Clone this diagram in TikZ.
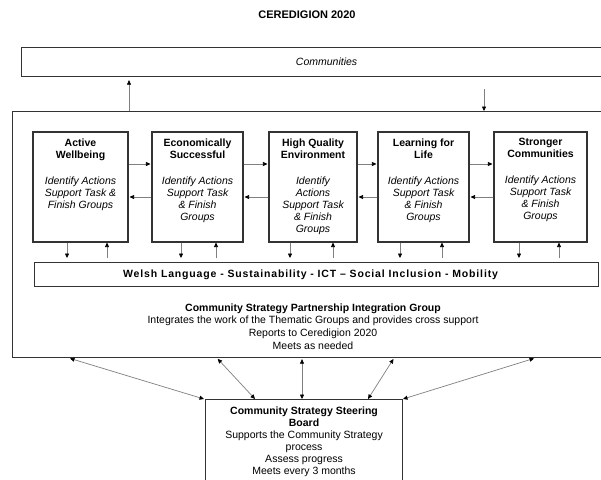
\documentclass[tikz,border=0pt]{standalone}
\usepackage{fontspec}
\setmainfont{Liberation Sans}
\usetikzlibrary{arrows.meta}
\begin{document}
\begin{tikzpicture}[x=1pt,y=-1pt,
	box/.style={draw=black!80,line width=1.1pt,inner sep=0pt},
	txt/.style={align=center,inner sep=0pt,font=\fontsize{10.5}{12}\selectfont},
	arr/.style={draw=black!50,line width=0.7pt,-{Triangle[length=4.5pt,width=4pt,black]}},
	darr/.style={draw=black!50,line width=0.7pt,{Triangle[length=4.5pt,width=4pt,black]}-{Triangle[length=4.5pt,width=4pt,black]}}]
	\clip (0,0) rectangle (601,479);
	\fill[white] (0,0) rectangle (601,479);
	\node[txt,font=\bfseries\fontsize{11}{13}\selectfont] (title) at (307,15) {CEREDIGION 2020};
	\node[box,minimum width=610,minimum height=29,anchor=north west,font=\itshape\fontsize{10.5}{12}\selectfont] (comm) at (21,47) {Communities};
	\node[box,minimum width=620,minimum height=246,anchor=north west] (outer) at (12,111) {};
	% themes
	\node[box,minimum width=95,minimum height=110] (b1) at (80.5,187) {};
	\node[box,minimum width=91,minimum height=110] (b2) at (197.5,187) {};
	\node[box,minimum width=88,minimum height=110] (b3) at (313,187) {};
	\node[box,minimum width=91,minimum height=110] (b4) at (423.5,187) {};
	\node[box,minimum width=93,minimum height=110] (b5) at (540.5,187) {};
	\node[txt,anchor=north] (t1) at ([yshift=-7]b1.north) {\textbf{Active}\\\textbf{Wellbeing}\\[14pt]\itshape Identify Actions\\\itshape Support Task \&\\\itshape Finish Groups};
	\node[txt,anchor=north] (t2) at ([yshift=-7]b2.north) {\textbf{Economically}\\\textbf{Successful}\\[14pt]\itshape Identify Actions\\\itshape Support Task\\\itshape \& Finish\\\itshape Groups};
	\node[txt,anchor=north] (t3) at ([yshift=-7]b3.north) {\textbf{High Quality}\\\textbf{Environment}\\[14pt]\itshape Identify\\\itshape Actions\\\itshape Support Task\\\itshape \& Finish\\\itshape Groups};
	\node[txt,anchor=north] (t4) at ([yshift=-7]b4.north) {\textbf{Learning for}\\\textbf{Life}\\[14pt]\itshape Identify Actions\\\itshape Support Task\\\itshape \& Finish\\\itshape Groups};
	\node[txt,anchor=north] (t5) at ([yshift=-7]b5.north) {\textbf{Stronger}\\\textbf{Communities}\\[14pt]\itshape Identify Actions\\\itshape Support Task\\\itshape \& Finish\\\itshape Groups};
	\node[box,minimum width=564,minimum height=24,anchor=north west] (band) at (34,262) {};
	\node[txt,font=\bfseries\fontsize{10.5}{12}\selectfont\addfontfeature{LetterSpace=8}] (bandtxt) at ([xshift=-6]band.center) {Welsh Language - Sustainability - ICT -- Social Inclusion - Mobility};
	\node[txt] (integ) at (313,326.5) {\textbf{Community Strategy Partnership Integration Group}\\Integrates the work of the Thematic Groups and provides cross support\\[1pt]Reports to Ceredigion 2020\\[1pt]Meets as needed};
	\node[box,minimum width=197,minimum height=120,anchor=north west] (board) at (205,399) {};
	\node[txt,anchor=north] (boardtxt) at ([yshift=-8]board.north) {\textbf{Community Strategy Steering}\\\textbf{Board}\\Supports the Community Strategy\\process\\Assess progress\\Meets every 3 months};
	% communities <-> outer
	\coordinate (up) at (129,0);
	\coordinate (down) at (484,0);
	\draw[arr,shorten >=3pt] (outer.north -| up) -- (comm.south -| up);
	\draw[arr,shorten <=12pt] (comm.south -| down) -- (outer.north -| down);
	% between themes
	\foreach \a/\b in {b1/b2,b2/b3,b3/b4,b4/b5} {
		\draw[arr,shorten >=1pt] ([yshift=23]\a.east) -- ([yshift=23]\b.west);
		\draw[arr,shorten >=1pt] ([yshift=-10]\b.west) -- ([yshift=-10]\a.east);
	}
	% themes <-> band
	\foreach \n/\d/\u in {b1/67/107,b2/181/216,b3/290/333,b4/400/442,b5/519/559} {
		\coordinate (d) at (\d,0);
		\coordinate (u) at (\u,0);
		\draw[arr,shorten >=4pt] (\n.south -| d) -- (band.north -| d);
		\draw[arr,shorten <=4pt] (band.north -| u) -- (\n.south -| u);
	}
	% board <-> outer
	\foreach \i/\p/\q in {1/69/204,2/217/255,3/302/302,4/394/368,5/535/403} {
		\coordinate (p\i) at (\p,0);
		\coordinate (q\i) at (\q,0);
		\draw[darr,shorten <=1pt] (p\i |- outer.south) -- (q\i |- board.north);
	}
\end{tikzpicture}
\end{document}
